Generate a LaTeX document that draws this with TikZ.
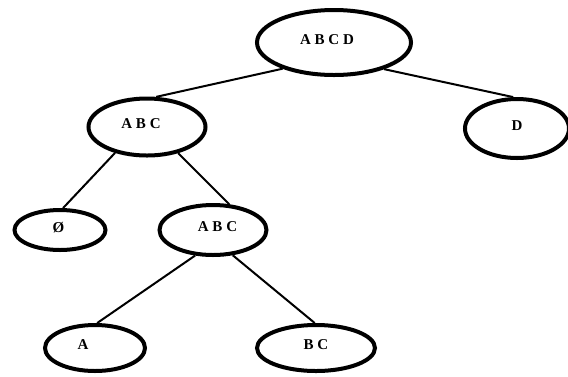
\documentclass[tikz,border=0pt]{standalone}
\usepackage{fontspec}
\setmainfont{Liberation Serif}
\usepackage{tikz}
\usetikzlibrary{shapes.geometric}

\tikzset{
    setnode/.style={draw,ellipse,line width=4pt,inner sep=0pt,text depth=6pt,
        font=\fontsize{15}{17}\selectfont\bfseries},
    setedge/.style={line width=2pt}
}

\begin{document}
\begin{tikzpicture}[x=1pt,y=-1pt] %坐标按像素写, y 轴向下
    \useasboundingbox (0,0) rectangle (568,376);
    % 各层集合 (文字略偏离椭圆中心)
    \node[setnode,minimum width=154pt,minimum height=65pt] (abcd) at (334,42.5) {A B C D\hspace*{14pt}};
    \node[setnode,minimum width=117pt,minimum height=57pt] (abc) at (147,127) {A B C\hspace*{12pt}};
    \node[setnode,minimum width=104pt,minimum height=59pt] (d) at (517,128.5) {D};
    \node[setnode,minimum width=91pt,minimum height=40pt] (empty) at (60,230) {Ø\hspace*{3pt}};
    \node[setnode,minimum width=107pt,minimum height=50pt] (abcsub) at (213,230) {\hspace*{9pt}A B C};
    \node[setnode,minimum width=100pt,minimum height=46pt] (a) at (95,348) {A\hspace*{24pt}};
    \node[setnode,minimum width=118pt,minimum height=46pt] (bc) at (316,348) {B C};
    % 连线
    \draw[setedge] (abcd.207) -- (abc.73);
    \draw[setedge] (abcd.332) -- (d.97);
    \draw[setedge] (abc.219) -- (empty.82);
    \draw[setedge] (abc.320) -- (abcsub.58);
    \draw[setedge] (abcsub.235) -- (a.85);
    \draw[setedge] (abcsub.308) -- (bc.93);
\end{tikzpicture}
\end{document}
